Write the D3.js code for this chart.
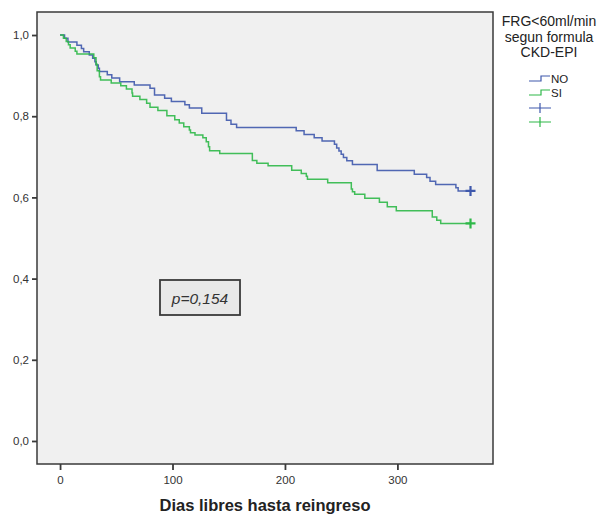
<!DOCTYPE html>
<html>
<head>
<meta charset="utf-8">
<script src="https://cdn.jsdelivr.net/npm/d3@7"></script>
<style>
  body { margin: 0; background: #ffffff; }
  svg { display: block; font-family: "Liberation Sans", Arial, sans-serif; }
</style>
</head>
<body>
<svg id="chart" width="601" height="515"></svg>
<script>
// ---- data ----
const seriesNames = ["NO", "SI"];
const legendTitle = ["FRG<60ml/min", "segun formula", "CKD-EPI"];
const xTicks = [0, 100, 200, 300];
const yTicks = [0, 0.2, 0.4, 0.6, 0.8, 1.0];
const xTitle = "Dias libres hasta reingreso";
const pText = "p=0,154";
const endTime = 365;

const noTimes = [0, 4, 7, 15, 19, 21, 26, 29, 31, 32, 34, 35, 42, 46, 53, 66, 80, 84, 93, 99, 111, 115, 126, 148, 152, 157, 210, 217, 226, 233, 244, 246, 248, 250, 252, 255, 260, 282, 315, 326, 329, 334, 352, 354];
const noSurv  = [1.0, 0.992, 0.983, 0.975, 0.967, 0.959, 0.951, 0.943, 0.934, 0.926, 0.918, 0.910, 0.902, 0.894, 0.885, 0.877, 0.869, 0.852, 0.844, 0.836, 0.828, 0.820, 0.807, 0.790, 0.780, 0.772, 0.764, 0.755, 0.747, 0.739, 0.731, 0.722, 0.714, 0.706, 0.698, 0.690, 0.681, 0.666, 0.657, 0.649, 0.640, 0.632, 0.624, 0.616];

const siTimes = [0, 3, 5.5, 7.5, 9, 13.5, 15, 30, 32, 33, 35, 36, 45.5, 54, 59, 64, 64.5, 71, 77, 80, 87, 95, 102, 106, 110, 115, 116, 120, 127, 130, 132, 133, 142, 171, 175, 185, 206, 214.5, 219, 220, 238, 259, 260, 262, 271, 284, 291, 299, 331, 335, 338.5];
const siSurv  = [1.0, 0.992, 0.984, 0.976, 0.968, 0.960, 0.953, 0.944, 0.928, 0.912, 0.897, 0.889, 0.882, 0.875, 0.867, 0.857, 0.849, 0.841, 0.832, 0.822, 0.814, 0.801, 0.791, 0.783, 0.774, 0.766, 0.759, 0.754, 0.747, 0.737, 0.725, 0.715, 0.708, 0.691, 0.684, 0.678, 0.667, 0.659, 0.652, 0.645, 0.636, 0.621, 0.614, 0.608, 0.598, 0.588, 0.577, 0.567, 0.552, 0.544, 0.536];

const colors = ["#3e58ac", "#2eb848"];

// ---- layout ----
const svg = d3.select("#chart");
const frame = {left: 37, right: 493, top: 12, bottom: 464};

const x = d3.scaleLinear().domain([-20.5, 385]).range([frame.left, frame.right]);
const y = d3.scaleLinear().domain([-0.0567, 1.0567]).range([frame.bottom, frame.top]);

// plot area
svg.append("rect")
  .attr("x", frame.left).attr("y", frame.top)
  .attr("width", frame.right - frame.left).attr("height", frame.bottom - frame.top)
  .attr("fill", "#f0f0f0").attr("stroke", "#3a3a3a").attr("stroke-width", 1.5);

// axes
const fmt = d => d3.format(".1f")(d).replace(".", ",");
const yAxis = svg.append("g").attr("transform", `translate(${frame.left},0)`)
  .call(d3.axisLeft(y).tickValues(yTicks).tickFormat(fmt).tickSize(5).tickPadding(3));
const xAxis = svg.append("g").attr("transform", `translate(0,${frame.bottom})`)
  .call(d3.axisBottom(x).tickValues(xTicks).tickFormat(d3.format("d")).tickSize(6).tickPadding(6));
[yAxis, xAxis].forEach(a => {
  a.select(".domain").remove();
  a.selectAll(".tick line").attr("stroke", "#3a3a3a").attr("stroke-width", 1.8);
  a.selectAll(".tick text").attr("fill", "#333").style("font-size", "11.5px")
   .style("font-family", "'Liberation Sans', Arial, sans-serif");
});

// x title
svg.append("text")
  .attr("x", 265).attr("y", 511)
  .attr("text-anchor", "middle")
  .style("font-size", "16.5px").style("font-weight", "bold").attr("fill", "#222")
  .text(xTitle);

// curves
const line = d3.line().x(d => x(d[0])).y(d => y(d[1])).curve(d3.curveStepAfter);
const series = [
  {times: noTimes, surv: noSurv},
  {times: siTimes, surv: siSurv}
];
series.forEach((s, i) => {
  const pts = s.times.map((t, j) => [t, s.surv[j]]);
  pts.push([endTime, s.surv[s.surv.length - 1]]);
  svg.append("path").datum(pts)
    .attr("d", line).attr("fill", "none")
    .attr("stroke", colors[i]).attr("stroke-width", 1.5).attr("stroke-opacity", 0.9);
  // censor cross at end
  const cx = x(endTime), cy = y(s.surv[s.surv.length - 1]);
  svg.append("path")
    .attr("d", `M${cx - 5},${cy}H${cx + 5}M${cx},${cy - 5}V${cy + 5}`)
    .attr("stroke", colors[i]).attr("stroke-width", 2.2).attr("fill", "none");
});

// p-value box
svg.append("rect")
  .attr("x", 160).attr("y", 280).attr("width", 80).attr("height", 35)
  .attr("fill", "#e8e8e8").attr("stroke", "#3a3a3a").attr("stroke-width", 1.8);
svg.append("text")
  .attr("x", 200).attr("y", 303.5).attr("text-anchor", "middle")
  .style("font-size", "15.5px").style("font-style", "italic").attr("fill", "#333")
  .text(pText);

// legend
const lg = svg.append("g");
legendTitle.forEach((t, i) => {
  lg.append("text").attr("x", 549).attr("y", 26 + i * 15.5)
    .attr("text-anchor", "middle").style("font-size", "14px").attr("fill", "#222").text(t);
});
seriesNames.forEach((n, i) => {
  const yy = 81 + i * 14;
  lg.append("path")
    .attr("d", `M529,${yy}H541V${yy - 5}H550`)
    .attr("stroke", colors[i]).attr("stroke-width", 1.2).attr("fill", "none");
  lg.append("text").attr("x", 551).attr("y", yy + 1.5)
    .style("font-size", "11.5px").attr("fill", "#222").text(n);
});
seriesNames.forEach((n, i) => {
  const yy = 108 + i * 14;
  lg.append("path")
    .attr("d", `M529,${yy}H551M540,${yy - 5}V${yy + 5}`)
    .attr("stroke", colors[i]).attr("stroke-width", 1.2).attr("fill", "none");
});
</script>
</body>
</html>
